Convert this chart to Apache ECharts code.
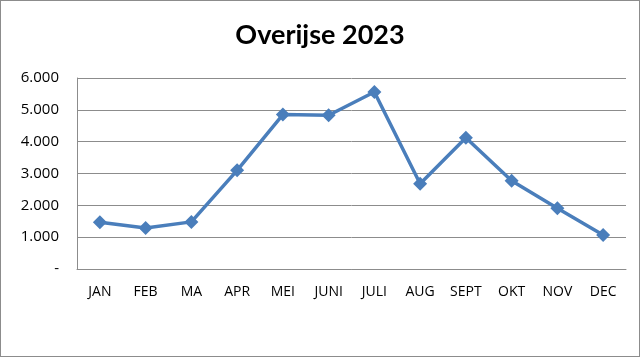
<!DOCTYPE html>
<html><head><meta charset="utf-8">
<script src="https://cdn.jsdelivr.net/npm/echarts@6/dist/echarts.min.js"></script>
<style>html,body{margin:0;padding:0;background:#fff}#c{width:640px;height:357px;box-sizing:border-box;border:1px solid #8c8c8c}</style>
</head><body><div id="c"></div>
<script>
const categories = ['JAN','FEB','MA','APR','MEI','JUNI','JULI','AUG','SEPT','OKT','NOV','DEC'];
const values = [1470,1290,1480,3100,4850,4830,5560,2680,4120,2770,1910,1070];
const chart = echarts.init(document.getElementById('c'));
chart.setOption({
  animation:false,
  title:{text:'Overijse 2023',left:'center',top:16,textStyle:{fontFamily:'Lato',fontWeight:'bold',fontSize:27,color:'#000'}},
  grid:{left:76,right:13,top:77,bottom:87},
  xAxis:{type:'category',data:categories,boundaryGap:true,
    axisLine:{lineStyle:{color:'#8c8c8c'}},axisTick:{show:false},
    axisLabel:{color:'#000',fontFamily:'Open Sans',fontSize:14,margin:16}},
  yAxis:{type:'value',min:0,max:6000,interval:1000,
    axisLine:{show:true,lineStyle:{color:'#8c8c8c'}},axisTick:{show:false},
    splitLine:{lineStyle:{color:'#8c8c8c'}},
    axisLabel:{color:'#000',fontFamily:'Open Sans',fontSize:15,margin:18,
      formatter:v=>v===0?'-':(v/1000).toFixed(3)}},
  series:[{type:'line',data:values,symbol:'diamond',symbolSize:14,
    lineStyle:{color:'#4a7ebb',width:3.5},itemStyle:{color:'#4a7ebb'}}]
});
</script></body></html>
